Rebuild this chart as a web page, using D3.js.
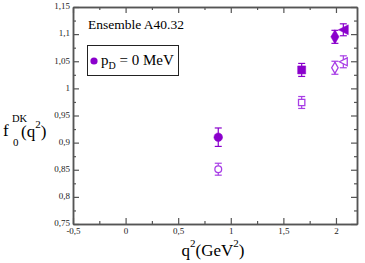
<!DOCTYPE html>
<html>
<head>
<meta charset="utf-8">
<script src="https://cdn.jsdelivr.net/npm/d3@7"></script>
<style>
  body { margin: 0; background: #fff; }
  svg { display: block; font-family: "Liberation Serif", "DejaVu Serif", serif; }
</style>
</head>
<body>
<div id="chart"></div>
<script>
// Chart data
var xTicks = [-0.5, 0, 0.5, 1, 1.5, 2];
var yTicks = [0.75, 0.8, 0.85, 0.9, 0.95, 1, 1.05, 1.1, 1.15];
var q2 = [0.881, 1.674, 1.99, 2.07];
var shapes = ["circle", "square", "diamond", "triangle"];
var fFilled = [0.910, 1.034, 1.095, 1.108];
var errFilled = [0.017, 0.012, 0.012, 0.011];
var fOpen = [0.851, 0.974, 1.038, 1.049];
var errOpen = [0.011, 0.011, 0.012, 0.011];

var svgWidth = 365;
var svgHeight = 263;
var margin = { top: 7, right: 8, bottom: 39, left: 73 };
var width = svgWidth - margin.left - margin.right;
var height = svgHeight - margin.top - margin.bottom;

var svg = d3.select("#chart")
  .append("svg")
  .attr("width", svgWidth)
  .attr("height", svgHeight);

var chartGroup = svg.append("g")
  .attr("transform", `translate(${margin.left}, ${margin.top})`);

var x = d3.scaleLinear().domain([-0.5, 2.2]).range([0, width]);
var y = d3.scaleLinear().domain([0.75, 1.15]).range([height, 0]);

var comma = d => String(d).replace(".", ",");
var minorX = d3.range(-0.25, 2.2, 0.5);
var minorY = d3.range(0.775, 1.15, 0.05);

// ticks on all four sides, pointing inward
function drawAxis(axisFn, scale, ticks, size, transform, labels, pad) {
  var g = chartGroup.append("g")
    .attr("transform", transform)
    .call(axisFn(scale).tickValues(ticks).tickSizeInner(size).tickSizeOuter(0)
      .tickPadding(labels ? pad : 0)
      .tickFormat(labels ? comma : ""));
  g.select(".domain").attr("stroke", "#555").attr("stroke-width", 1.5);
  g.selectAll(".tick line").attr("stroke", "#555").attr("stroke-width", 1.2);
  g.selectAll("text").attr("font-size", 9).attr("fill", "#222")
    .attr("font-family", "Liberation Serif");
  return g;
}

drawAxis(d3.axisBottom, x, xTicks, -6, `translate(0, ${height})`, true, 4);
drawAxis(d3.axisBottom, x, minorX, -3, `translate(0, ${height})`, false);
drawAxis(d3.axisTop, x, xTicks, -6, "translate(0,0)", false);
drawAxis(d3.axisTop, x, minorX, -3, "translate(0,0)", false);
drawAxis(d3.axisLeft, y, yTicks, -6, "translate(0,0)", true, 3)
  .selectAll("text").attr("dy", "0.2em");
drawAxis(d3.axisLeft, y, minorY, -3, "translate(0,0)", false);
drawAxis(d3.axisRight, y, yTicks, -6, `translate(${width},0)`, false);
drawAxis(d3.axisRight, y, minorY, -3, `translate(${width},0)`, false);

// markers
function symbolPath(shape, size) {
  if (shape === "circle") return d3.symbol(d3.symbolCircle, size * 0.9)();
  if (shape === "square") return d3.symbol(d3.symbolSquare, size)();
  if (shape === "diamond") return d3.symbol(d3.symbolDiamond, size * 0.9)();
  var r = Math.sqrt(size) * 0.62;
  return `M${-r},0L${r},${-r}L${r},${r}Z`;
}

function drawSeries(values, errs, color, filled) {
  var data = q2.map((d, i) => ({ x: d, y: values[i], e: errs[i], s: shapes[i] }));
  var g = chartGroup.append("g");
  var pts = g.selectAll("g").data(data).enter().append("g")
    .attr("transform", d => `translate(${x(d.x)}, 0)`);
  pts.append("line")
    .attr("y1", d => y(d.y - d.e)).attr("y2", d => y(d.y + d.e))
    .attr("stroke", color).attr("stroke-width", 1.2);
  pts.append("line")
    .attr("x1", -3.5).attr("x2", 3.5)
    .attr("y1", d => y(d.y - d.e)).attr("y2", d => y(d.y - d.e))
    .attr("stroke", color).attr("stroke-width", 1.2);
  pts.append("line")
    .attr("x1", -3.5).attr("x2", 3.5)
    .attr("y1", d => y(d.y + d.e)).attr("y2", d => y(d.y + d.e))
    .attr("stroke", color).attr("stroke-width", 1.2);
  pts.append("path")
    .attr("transform", d => `translate(0, ${y(d.y)})`)
    .attr("d", d => symbolPath(d.s, filled ? 64 : 40))
    .attr("fill", filled ? color : "#fff")
    .attr("stroke", color)
    .attr("stroke-width", filled ? 0.5 : 1.3);
}

drawSeries(fOpen, errOpen, "#a83ee6", false);
drawSeries(fFilled, errFilled, "#8a00cc", true);

// annotation and legend
svg.append("text")
  .attr("x", 88).attr("y", 29)
  .attr("font-size", 13.5)
  .text("Ensemble A40.32");

svg.append("rect")
  .attr("x", 87.5).attr("y", 45.5).attr("width", 91).attr("height", 30)
  .attr("fill", "#fff").attr("stroke", "#222").attr("stroke-width", 1);

svg.append("circle")
  .attr("cx", 94).attr("cy", 61).attr("r", 3.6).attr("fill", "#8a00cc");

var leg = svg.append("text").attr("x", 101).attr("y", 65).attr("font-size", 15);
leg.append("tspan").text("p");
leg.append("tspan").attr("font-size", 10).attr("dy", 4).text("D");
leg.append("tspan").attr("dy", -4).text(" = 0 MeV");

// axis titles
var xt = svg.append("text")
  .attr("x", 213).attr("y", 256)
  .attr("text-anchor", "middle")
  .attr("font-size", 17);
xt.append("tspan").text("q");
xt.append("tspan").attr("font-size", 11).attr("dy", -9).text("2");
xt.append("tspan").attr("dy", 9).text("(GeV");
xt.append("tspan").attr("font-size", 11).attr("dy", -9).text("2");
xt.append("tspan").attr("dy", 9).text(")");

svg.append("text").attr("x", 3).attr("y", 136).attr("font-size", 17).text("f");
svg.append("text").attr("x", 12).attr("y", 122).attr("font-size", 10.5).text("DK");
svg.append("text").attr("x", 13).attr("y", 146).attr("font-size", 11).text("0");
var yt = svg.append("text").attr("x", 21).attr("y", 137).attr("font-size", 17);
yt.append("tspan").text("(q");
yt.append("tspan").attr("font-size", 11).attr("dy", -9).text("2");
yt.append("tspan").attr("dy", 9).text(")");
</script>
</body>
</html>
